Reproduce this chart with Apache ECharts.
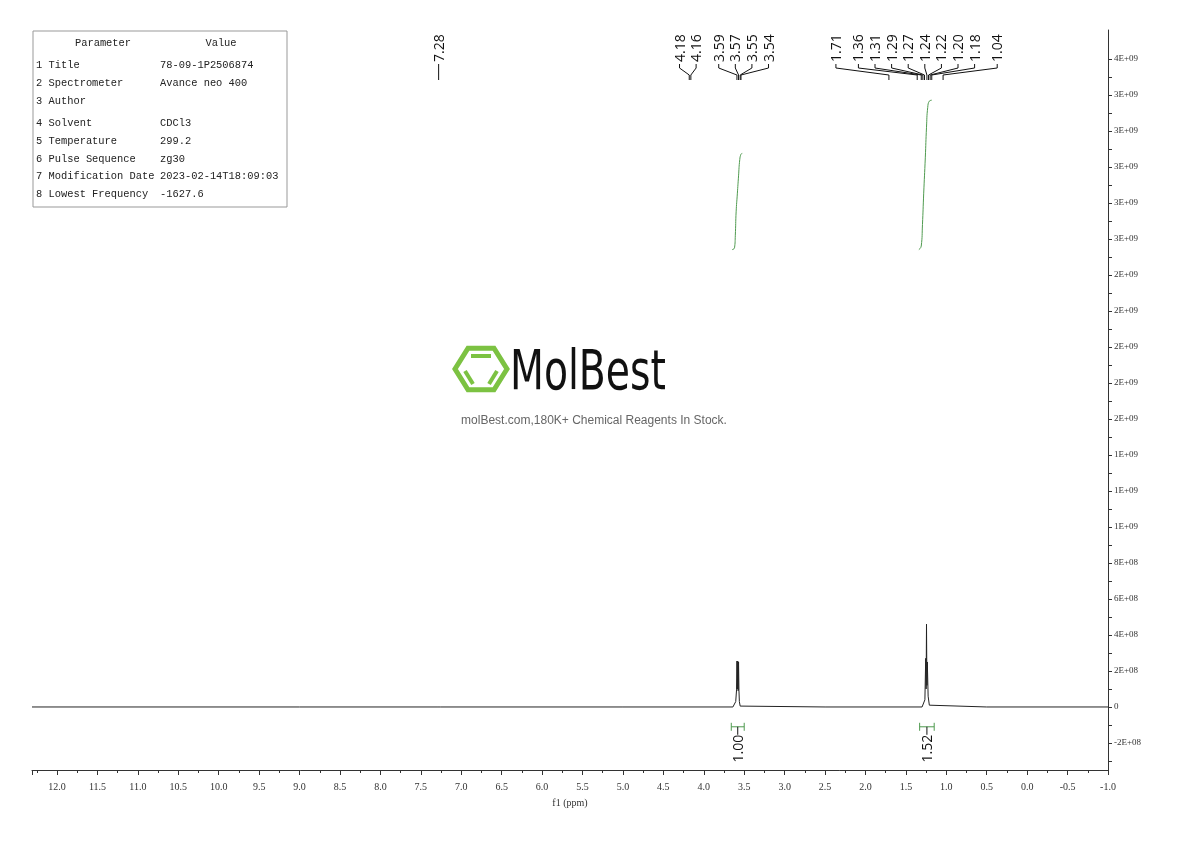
<!DOCTYPE html>
<html><head><meta charset="utf-8">
<script src="https://cdn.jsdelivr.net/npm/echarts@6/dist/echarts.min.js"></script>
<style>html,body{margin:0;padding:0;background:#fff}#c{width:1190px;height:841px}</style>
</head><body><div id="c"></div>
<script>
// ---- data ----
const spectrum = [
  [12.31,0],[9.0,0],[7.30,0],[7.28,0.03e8],[7.26,0],[5.0,0],
  [3.64,0],[3.62,0.02e8],[3.605,0.3e8],[3.595,0.95e8],[3.59,2.55e8],[3.585,1.0e8],[3.58,2.55e8],[3.575,0.9e8],[3.57,2.5e8],[3.565,0.9e8],[3.56,0.3e8],[3.55,0.05e8],[3.53,0],[2.5,0],
  [1.30,0],[1.28,0.05e8],[1.265,0.4e8],[1.255,2.7e8],[1.25,1.0e8],[1.245,4.6e8],[1.24,1.2e8],[1.235,2.5e8],[1.225,0.6e8],[1.21,0.1e8],[1.19,0],[0.5,0],
  [-1.0,0]
];
const integralA = [[3.65,2.54e9],[3.62,2.55e9],[3.61,2.62e9],[3.60,2.75e9],[3.585,2.85e9],[3.57,2.95e9],[3.555,3.04e9],[3.54,3.07e9],[3.525,3.075e9]];
const integralB = [[1.34,2.54e9],[1.31,2.56e9],[1.295,2.68e9],[1.28,2.85e9],[1.26,3.05e9],[1.245,3.22e9],[1.23,3.33e9],[1.21,3.365e9],[1.18,3.37e9]];
const peakLabels = [7.28,4.18,4.16,3.59,3.57,3.55,3.54,1.71,1.36,1.31,1.29,1.27,1.24,1.22,1.20,1.18,1.04];
const integrations = [[3.66,3.50,'1.00'],[1.33,1.15,'1.52']];
const yTicks = [-2e8,0,2e8,4e8,6e8,8e8,1e9,1.2e9,1.4e9,1.6e9,1.8e9,2e9,2.2e9,2.4e9,2.6e9,2.8e9,3e9,3.2e9,3.4e9,3.6e9];
const tableRows = [['Parameter','Value'],['1 Title','78-09-1P2506874'],['2 Spectrometer','Avance neo 400'],['3 Author',''],['4 Solvent','CDCl3'],['5 Temperature','299.2'],['6 Pulse Sequence','zg30'],['7 Modification Date','2023-02-14T18:09:03'],['8 Lowest Frequency','-1627.6']];

const minorY = [];
for (let i=0;i<yTicks.length;i++){ minorY.push(yTicks[i]); if(i<yTicks.length-1) minorY.push((yTicks[i]+yTicks[i+1])/2); }
minorY.push(-3e8);

function fmtY(v){
  if (Math.abs(v)<1) return '0';
  const s=v.toExponential(0).split('e');
  const e=parseInt(s[1],10);
  return s[0]+'E'+(e<0?'-':'+')+String(Math.abs(e)).padStart(2,'0');
}
const GREEN='#4f9a4f';
const chart = echarts.init(document.getElementById('c'));

function peakLabelRender(params, api){
  if (params.dataIndex!==0) return null;
  const cs = params.coordSys;
  const gap = 16.6;
  const px = peakLabels.map(p=>api.coord([p,0])[0]);
  const clusters=[];
  peakLabels.forEach((p,i)=>{
    const last=clusters[clusters.length-1];
    if(last && Math.abs(peakLabels[last.idx[last.idx.length-1]]-p)<0.1) last.idx.push(i);
    else clusters.push({idx:[i]});
  });
  clusters.forEach(cl=>{cl.c=cl.idx.reduce((s,k)=>s+px[k],0)/cl.idx.length;});
  for(let it=0;it<30;it++){
    for(let i=0;i<clusters.length-1;i++){
      const a=clusters[i], b=clusters[i+1];
      const na=a.idx.length, nb=b.idx.length;
      const aR=a.c+(na-1)*gap/2, bL=b.c-(nb-1)*gap/2;
      const ov=gap+6-(bL-aR);
      if(ov>0){a.c-=ov*na/(na+nb);b.c+=ov*nb/(na+nb);}
    }
  }
  const lx=[];
  clusters.forEach(cl=>{ const n=cl.idx.length; cl.idx.forEach((k,j)=>{ lx[k]=cl.c+(j-(n-1)/2)*gap; }); });
  const top=cs.y;
  const children=[];
  peakLabels.forEach((p,i)=>{
    children.push({type:'text',x:lx[i]+1,y:top+32,rotation:Math.PI/2,
      style:{text:p.toFixed(2),fill:'#111',font:'14px "Open Sans", sans-serif',align:'left',verticalAlign:'middle'}});
    children.push({type:'polyline',shape:{points:[[lx[i],top+34],[lx[i],top+38],[px[i],top+45],[px[i],top+50]]},
      style:{stroke:'#111',lineWidth:1,fill:null}});
  });
  return {type:'group',children};
}
function integRender(params, api){
  const d=integrations[params.dataIndex];
  const y=api.coord([0,-1.1e8])[1];
  const x1=api.coord([d[0],0])[0], x2=api.coord([d[1],0])[0];
  const cx=(x1+x2)/2;
  return {type:'group',children:[
    {type:'line',shape:{x1,y1:y,x2,y2:y},style:{stroke:GREEN,lineWidth:1}},
    {type:'line',shape:{x1,y1:y-4,x2:x1,y2:y+4},style:{stroke:GREEN,lineWidth:1}},
    {type:'line',shape:{x1:x2,y1:y-4,x2,y2:y+4},style:{stroke:GREEN,lineWidth:1}},
    {type:'line',shape:{x1:cx,y1:y,x2:cx,y2:y+8},style:{stroke:'#111',lineWidth:1}},
    {type:'text',x:cx+1,y:y+8,rotation:Math.PI/2,style:{text:d[2],fill:'#111',font:'14px "Open Sans", sans-serif',align:'right',verticalAlign:'middle'}}
  ]};
}

const tbl=[{type:'rect',shape:{x:33,y:31,width:254,height:176},style:{fill:'#fff',stroke:'#999',lineWidth:1}}];
const rowY=[43,65,83,101,123,141,159,176,194];
tableRows.forEach((r,i)=>{
  const f='10.4px "Liberation Mono", monospace';
  if(i===0){
    tbl.push({type:'text',x:103,y:rowY[i],style:{text:r[0],font:f,fill:'#222',align:'center',verticalAlign:'middle'}});
    tbl.push({type:'text',x:221,y:rowY[i],style:{text:r[1],font:f,fill:'#222',align:'center',verticalAlign:'middle'}});
  } else {
    tbl.push({type:'text',x:36,y:rowY[i],style:{text:r[0],font:f,fill:'#222',verticalAlign:'middle'}});
    tbl.push({type:'text',x:160,y:rowY[i],style:{text:r[1],font:f,fill:'#222',verticalAlign:'middle'}});
  }
});
const hx=481, hy=369, hr=26;
const hex=[]; for(let k=0;k<6;k++){const a=Math.PI/3*k; hex.push([hx+hr*Math.cos(a),hy+hr*0.92*Math.sin(a)]);}
const logo=[
  {type:'polygon',shape:{points:hex},style:{fill:null,stroke:'#7cc242',lineWidth:5}},
  {type:'polyline',shape:{points:[[hx-10,hy-13],[hx+10,hy-13]]},style:{stroke:'#7cc242',lineWidth:4}},
  {type:'polyline',shape:{points:[[hx-16,hy+2],[hx-8,hy+15]]},style:{stroke:'#7cc242',lineWidth:4}},
  {type:'polyline',shape:{points:[[hx+16,hy+2],[hx+8,hy+15]]},style:{stroke:'#7cc242',lineWidth:4}},
  {type:'text',x:510,y:374,scaleX:0.78,originX:0,originY:0,style:{text:'MolBest',font:'56px "Liberation Sans Narrow", "DejaVu Sans Condensed", sans-serif',fill:'#111',align:'left',verticalAlign:'middle'}},
  {type:'text',x:594,y:421,style:{text:'molBest.com,180K+ Chemical Reagents In Stock.',font:'12px "Liberation Sans", Arial, sans-serif',fill:'#666',align:'center',verticalAlign:'middle'}}
];

chart.setOption({
  animation:false,
  grid:{left:32,right:82,top:30,bottom:71},
  xAxis:{type:'value',inverse:true,min:-1,max:12.31,interval:0.5,
    axisLine:{show:true,onZero:false,lineStyle:{color:'#333'}},
    axisTick:{show:true,length:5,lineStyle:{color:'#333'}},
    minorTick:{show:true,splitNumber:2,length:3,lineStyle:{color:'#333'}},
    splitLine:{show:false},
    axisLabel:{formatter:v=>v.toFixed(1),color:'#333',fontFamily:'"Liberation Serif", serif',fontSize:10,margin:12,
      showMinLabel:true,showMaxLabel:false},
    name:'f1 (ppm)',nameLocation:'middle',nameGap:28,nameTextStyle:{fontFamily:'"Liberation Serif", serif',fontSize:10,color:'#333'}},
  yAxis:{type:'value',position:'right',min:-3.5e8,max:3.76e9,
    axisLine:{show:true,onZero:false,lineStyle:{color:'#333'}},
    axisTick:{show:true,length:4,customValues:minorY,lineStyle:{color:'#333'}},
    splitLine:{show:false},
    axisLabel:{customValues:yTicks,formatter:v=>fmtY(v),color:'#333',fontFamily:'"Liberation Serif", serif',fontSize:9,margin:6}},
  graphic:tbl.concat(logo),
  series:[
    {type:'line',data:spectrum,showSymbol:false,sampling:null,lineStyle:{color:'#222',width:1},z:3},
    {type:'line',data:integralA,showSymbol:false,smooth:true,lineStyle:{color:GREEN,width:1}},
    {type:'line',data:integralB,showSymbol:false,smooth:true,lineStyle:{color:GREEN,width:1}},
    {type:'custom',renderItem:peakLabelRender,data:[[0,0]],clip:false},
    {type:'custom',renderItem:integRender,data:integrations.map(d=>[d[0],0]),clip:false}
  ]
});
</script></body></html>
